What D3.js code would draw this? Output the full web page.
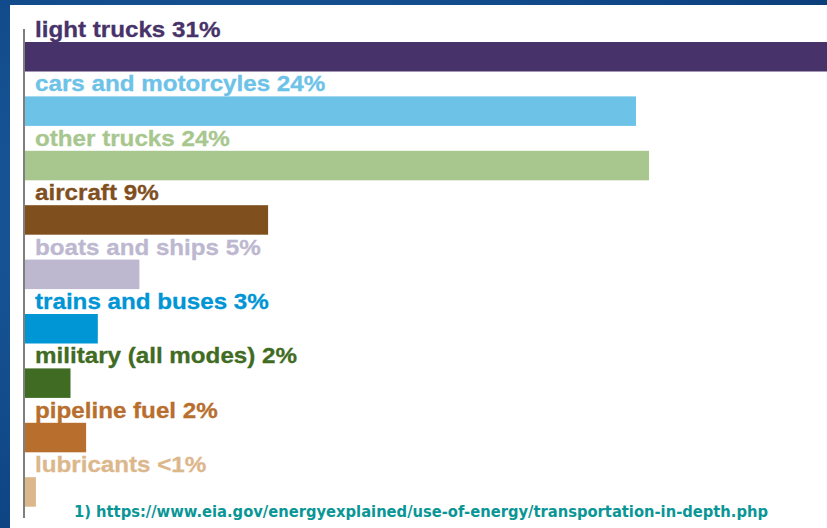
<!DOCTYPE html>
<html><head><meta charset="utf-8">
<script src="https://cdn.jsdelivr.net/npm/d3@7"></script>
<style>html,body{margin:0;padding:0;overflow:hidden;background:#134d8c}</style>
</head><body>
<script>
const categories = ["light trucks","cars and motorcyles","other trucks","aircraft","boats and ships","trains and buses","military (all modes)","pipeline fuel","lubricants"];
const shareLabels = ["31%","24%","24%","9%","5%","3%","2%","2%","<1%"];
const values = [31.2, 23.5, 24.0, 9.35, 4.4, 2.8, 1.75, 2.35, 0.42];
const colors = ["#47336a","#6dc2e8","#a8c78e","#7f4f1e","#bdb8d0","#0095d5","#3f6b22","#b86e2d","#ddb78c"];
const footnote = "1) https://www.eia.gov/energyexplained/use-of-energy/transportation-in-depth.php";

const W = 827, H = 528;
const svg = d3.select("body").append("svg").attr("width", W).attr("height", H);

const defs = svg.append("defs");
const rg = defs.append("radialGradient").attr("id","bg").attr("cx","30%").attr("cy","40%").attr("r","80%");
rg.append("stop").attr("offset","0%").attr("stop-color","#1d5ea3");
rg.append("stop").attr("offset","100%").attr("stop-color","#0b3f7c");
svg.append("rect").attr("width", W).attr("height", H).attr("fill","url(#bg)");
svg.append("rect").attr("x",10).attr("y",5).attr("width",W-10).attr("height",H-5).attr("fill","#fff");

const x = d3.scaleLinear().domain([0, 31]).range([25, 831]);
const y = d3.scaleBand().domain(categories).range([42, 506.7]).paddingInner(0.4577).paddingOuter(0).align(0);

svg.selectAll("rect.bar").data(categories).join("rect").attr("class","bar")
  .attr("x", x(0)).attr("y", d => y(d))
  .attr("width", (d,i) => x(values[i]) - x(0))
  .attr("height", y.bandwidth())
  .attr("fill", (d,i) => colors[i]);

const lab = svg.selectAll("g.lab").data(categories).join("g").attr("class","lab")
  .attr("transform", d => `translate(35,${y(d)-5}) scale(1.08,1)`);
lab.append("text")
  .attr("font-family","'Liberation Sans', Arial, sans-serif").attr("font-weight","bold").attr("font-size",22.4)
  .attr("fill",(d,i)=>colors[i])
  .attr("stroke",(d,i)=>colors[i]).attr("stroke-width",0.3)
  .text((d,i)=> d + " " + shareLabels[i]);

svg.append("line").attr("x1",24).attr("x2",24).attr("y1",29).attr("y2",518)
  .attr("stroke","#555").attr("stroke-width",1.5);

svg.append("text").attr("x",74).attr("y",517)
  .attr("font-family","'DejaVu Sans', Verdana, sans-serif").attr("font-weight","bold").attr("font-size",15.5)
  .attr("fill","#0a9696").attr("textLength",694).attr("lengthAdjust","spacingAndGlyphs")
  .text(footnote);
</script>
</body></html>
